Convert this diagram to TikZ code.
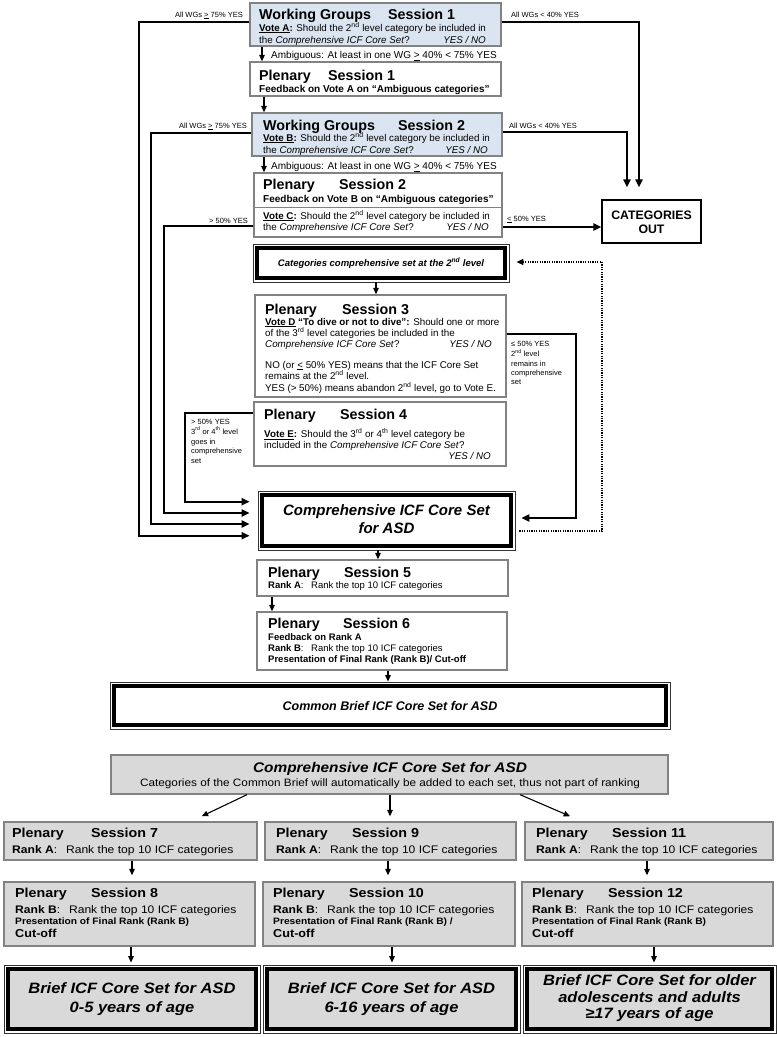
\documentclass[tikz,border=0pt]{standalone}
\usepackage{fontspec}
\setmainfont{Liberation Sans}
\newfontfamily\widefont[FakeStretch=1.1]{Liberation Sans}
\usetikzlibrary{arrows.meta,fit}
\definecolor{wgblue}{RGB}{219,229,241}
\definecolor{boxgray}{RGB}{217,217,217}
\definecolor{edgegray}{RGB}{130,130,130}
\newcommand\uln[1]{\underline{#1}}
\newcommand\sups[1]{\textsuperscript{#1}}
\newcommand\fTitle{\fontsize{14.3}{16}\selectfont\bfseries}
\newcommand\fBody{\fontsize{9.8}{11}\selectfont}
\newcommand\fFeed{\fontsize{10}{12}\selectfont\bfseries}
\newcommand\fLab{\fontsize{7.5}{9}\selectfont}
\newcommand\fAmb{\fontsize{10}{12}\selectfont}
\newcommand\fSmall{\fontsize{9.5}{11}\selectfont}
\newcommand\wTitle{\widefont\fontsize{13}{15}\selectfont\bfseries}
\newcommand\wBody{\widefont\fontsize{11}{13}\selectfont}
\newcommand\wPres{\widefont\fontsize{9.3}{11}\selectfont\bfseries}
\newcommand\wCut{\widefont\fontsize{11.5}{13}\selectfont\bfseries}
\newcommand\wBig{\widefont\fontsize{15}{17}\selectfont\bfseries\itshape}
\begin{document}
\begin{tikzpicture}[x=1pt,y=-1pt,
  sbox/.style={draw=edgegray, line width=1.3pt, inner sep=0},
  bbox/.style={sbox, fill=wgblue},
  gbox/.style={sbox, fill=boxgray},
  kbox/.style={draw=black, line width=1.3pt, inner sep=0},
  dbox/.style={draw=black!80, line width=0.8pt, inner sep=0,
    path picture={
      \fill[#1] ([shift={(4pt,-4pt)}]path picture bounding box.north west) rectangle ([shift={(-4pt,4pt)}]path picture bounding box.south east);
      \draw[black, line width=3.5pt] ([shift={(4pt,-4pt)}]path picture bounding box.north west) rectangle ([shift={(-4pt,4pt)}]path picture bounding box.south east);}},
  dbox/.default=white,
  tx/.style={anchor=base west, inner sep=0},
  txr/.style={anchor=base east, inner sep=0},
  txc/.style={anchor=base, inner sep=0},
  lline/.style={line width=2pt, -{Triangle[length=8pt,width=7pt]}},
  sline/.style={line width=1.1pt, -{Triangle[length=6.5pt,width=5.5pt]}},
  dline/.style={line width=1.3pt, dash pattern=on 1.2pt off 1.2pt, -{Triangle[length=7pt,width=6pt]}},
]
\useasboundingbox[fill=white] (0,0) rectangle (777,1037);

% ---------- boxes ----------
\node[bbox, fit={(250,3)(501,46)}] (wg1) {};
\node[sbox, fit={(250,62)(501,96)}] (p1) {};
\node[bbox, fit={(252,113)(502,156)}] (wg2) {};
\node[sbox, fit={(254,173)(502,237)}] (p2) {};
\node[kbox, fit={(602,200)(701,243)}] (out) {};
\node[dbox, fit={(253,244)(509,282)}] (cat2) {};
\node[sbox, fit={(255,295)(506,397)}] (s3) {};
\node[sbox, fit={(254,402)(506,466)}] (s4) {};
\node[dbox, fit={(258,491)(515,550)}] (comp) {};
\node[sbox, fit={(257,560)(508,596)}] (s5) {};
\node[sbox, fit={(257,612)(507,670)}] (s6) {};
\node[dbox, fit={(110,682)(670,729)}] (brief) {};
\node[gbox, fit={(111,755)(668,794)}] (compb) {};
\node[gbox, fit={(4,822)(257,860)}] (s7) {};
\node[gbox, fit={(265,822)(516,860)}] (s9) {};
\node[gbox, fit={(525,822)(773,860)}] (s11) {};
\node[gbox, fit={(4,882)(255,946)}] (s8) {};
\node[gbox, fit={(263,882)(515,946)}] (s10) {};
\node[gbox, fit={(522,882)(773,946)}] (s12) {};
\node[dbox=boxgray, fit={(4,965)(260,1033)}] (b1) {};
\node[dbox=boxgray, fit={(263,965)(520,1033)}] (b2) {};
\node[dbox=boxgray, fit={(523,965)(776,1033)}] (b3) {};
\draw[edgegray, line width=1pt] (p2.west |- 0,207) -- (p2.east |- 0,207);

% ---------- texts: WG1 ----------
\node[tx,font=\fTitle] (t1) at (259,19) {Working Groups};
\node[tx,font=\fTitle] (t2) at (388,19) {Session 1};
\node[tx,font=\fBody] (t3) at (259,31) {\textbf{\uln{Vote A}:} Should the 2\sups{nd} level category be included in};
\node[tx,font=\fBody] (t4) at (259,43) {the \textit{Comprehensive ICF Core Set}?};
\node[txr,font=\fBody\itshape] (t5) at (486,43) {YES / NO};
\node[txr,font=\fLab] (l1) at (243,17) {All WGs \uln{>} 75\% YES};
\node[tx,font=\fLab] (l2) at (511,17) {All WGs < 40\% YES};
\node[tx,font=\fAmb] (a1) at (271,58.5) {Ambiguous: At least in one WG \uln{>} 40\% < 75\% YES};
% P1
\node[tx,font=\fTitle] (t6) at (259,80) {Plenary};
\node[tx,font=\fTitle] (t7) at (328,80) {Session 1};
\node[tx,font=\fFeed] (t8) at (259,92) {Feedback on Vote A on ``Ambiguous categories''};
% WG2
\node[tx,font=\fTitle] (t9) at (263,130) {Working Groups};
\node[tx,font=\fTitle] (t10) at (398,130) {Session 2};
\node[tx,font=\fBody] (t11) at (263,141) {\textbf{\uln{Vote B}:} Should the 2\sups{nd} level category be included in};
\node[tx,font=\fBody] (t12) at (263,153) {the \textit{Comprehensive ICF Core Set}?};
\node[txr,font=\fBody\itshape] (t13) at (488,153) {YES / NO};
\node[txr,font=\fLab] (l3) at (247,128) {All WGs \uln{>} 75\% YES};
\node[tx,font=\fLab] (l4) at (509,128) {All WGs < 40\% YES};
\node[tx,font=\fAmb] (a2) at (271,169.5) {Ambiguous: At least in one WG \uln{>} 40\% < 75\% YES};
% P2
\node[tx,font=\fTitle] (t14) at (263,189) {Plenary};
\node[tx,font=\fTitle] (t15) at (339,189) {Session 2};
\node[tx,font=\fFeed] (t16) at (263,202) {Feedback on Vote B on ``Ambiguous categories''};
\node[tx,font=\fBody] (t17) at (263,219) {\textbf{\uln{Vote C}:} Should the 2\sups{nd} level category be included in};
\node[tx,font=\fBody] (t18) at (263,230) {the \textit{Comprehensive ICF Core Set}?};
\node[txr,font=\fBody\itshape] (t19) at (489,230) {YES / NO};
\node[txr,font=\fLab] (l5) at (248,223) {> 50\% YES};
\node[tx,font=\fLab] (l6) at (507,221) {\uln{<} 50\% YES};
% OUT
\node[txc,font=\fontsize{12.3}{14}\selectfont\bfseries] (t20) at (651.5,219.5) {CATEGORIES};
\node[txc,font=\fontsize{12.3}{14}\selectfont\bfseries] (t21) at (651.5,233) {OUT};
% cat2
\node[txc,font=\fontsize{9.5}{11}\selectfont\bfseries\itshape] (t22) at (381,266) {Categories comprehensive set at the 2\sups{nd} level};
% S3
\node[tx,font=\fTitle] (t23) at (265,314) {Plenary};
\node[tx,font=\fTitle] (t24) at (342,314) {Session 3};
\node[tx,font=\fBody] (t25) at (265,325) {\textbf{\uln{Vote D} ``To dive or not to dive'':} Should one or more};
\node[tx,font=\fBody] (t26) at (265,336.5) {of the 3\sups{rd} level categories be included in the};
\node[tx,font=\fBody] (t27) at (265,347) {\textit{Comprehensive ICF Core Set}?};
\node[txr,font=\fBody\itshape] (t28) at (492,347) {YES / NO};
\node[tx,font=\fBody] (t29) at (265,368) {NO (or \uln{<} 50\% YES) means that the ICF Core Set};
\node[tx,font=\fBody] (t30) at (265,379.5) {remains at the 2\sups{nd} level.};
\node[tx,font=\fBody] (t31) at (265,391) {YES (> 50\%) means abandon 2\sups{nd} level, go to Vote E.};
\node[tx,font=\fLab] (r1) at (511,346.5) {≤ 50\% YES};
\node[tx,font=\fLab] (r2) at (511,356.5) {2\sups{nd} level};
\node[tx,font=\fLab] (r3) at (511,366) {remains in};
\node[tx,font=\fLab] (r4) at (511,375.5) {comprehensive};
\node[tx,font=\fLab] (r5) at (511,384.5) {set};
% S4
\node[tx,font=\fTitle] (t32) at (264,419) {Plenary};
\node[tx,font=\fTitle] (t33) at (340,419) {Session 4};
\node[tx,font=\fBody] (t34) at (264,437.5) {\textbf{\uln{Vote E}:} Should the 3\sups{rd} or 4\sups{th} level category be};
\node[tx,font=\fBody] (t35) at (264,448.5) {included in the \textit{Comprehensive ICF Core Set}?};
\node[txr,font=\fBody\itshape] (t36) at (491,459) {YES / NO};
\node[tx,font=\fLab] (q1) at (191,424) {> 50\% YES};
\node[tx,font=\fLab] (q2) at (191,434) {3\sups{rd} or 4\sups{th} level};
\node[tx,font=\fLab] (q3) at (191,444) {goes in};
\node[tx,font=\fLab] (q4) at (191,453.5) {comprehensive};
\node[tx,font=\fLab] (q5) at (191,463.5) {set};
% comp
\node[txc,font=\fontsize{15}{17}\selectfont\bfseries\itshape] (t37) at (386.5,515) {Comprehensive ICF Core Set};
\node[txc,font=\fontsize{15}{17}\selectfont\bfseries\itshape] (t38) at (386.5,533) {for ASD};
% S5, S6
\node[tx,font=\fTitle] (t39) at (268,577) {Plenary};
\node[tx,font=\fTitle] (t40) at (344,577) {Session 5};
\node[tx,font=\fSmall] (t41) at (268,588) {\textbf{Rank A}:\hspace{0.8em}Rank the top 10 ICF categories};
\node[tx,font=\fTitle] (t42) at (268,628) {Plenary};
\node[tx,font=\fTitle] (t43) at (343,628) {Session 6};
\node[tx,font=\fSmall\bfseries] (t44) at (268,640) {Feedback on Rank A};
\node[tx,font=\fSmall] (t45) at (268,651) {\textbf{Rank B}:\hspace{0.8em}Rank the top 10 ICF categories};
\node[tx,font=\fSmall\bfseries] (t46) at (268,662) {Presentation of Final Rank (Rank B)/ Cut-off};
% brief
\node[txc,font=\fontsize{12.5}{14}\selectfont\bfseries\itshape] (t47) at (390,710) {Common Brief ICF Core Set for ASD};
% compb
\node[txc,font=\widefont\fontsize{14}{16}\selectfont\bfseries\itshape] (t48) at (390,772) {Comprehensive ICF Core Set for ASD};
\node[txc,font=\widefont\fontsize{10.7}{12}\selectfont] (t49) at (390,786) {Categories of the Common Brief will automatically be added to each set, thus not part of ranking};
% S7 S9 S11
\node[tx,font=\wTitle] (u1) at (12,837) {Plenary};
\node[tx,font=\wTitle] (u2) at (91,837) {Session 7};
\node[tx,font=\wBody] (u3) at (12,853) {\textbf{Rank A}:\hspace{0.8em}Rank the top 10 ICF categories};
\node[tx,font=\wTitle] (u4) at (276,837) {Plenary};
\node[tx,font=\wTitle] (u5) at (352,837) {Session 9};
\node[tx,font=\wBody] (u6) at (276,853) {\textbf{Rank A}:\hspace{0.8em}Rank the top 10 ICF categories};
\node[tx,font=\wTitle] (u7) at (536,837) {Plenary};
\node[tx,font=\wTitle] (u8) at (612,837) {Session 11};
\node[tx,font=\wBody] (u9) at (536,853) {\textbf{Rank A}:\hspace{0.8em}Rank the top 10 ICF categories};
% S8 S10 S12
\node[tx,font=\wTitle] (v1) at (15,897) {Plenary};
\node[tx,font=\wTitle] (v2) at (91,897) {Session 8};
\node[tx,font=\wBody] (v3) at (15,913) {\textbf{Rank B}:\hspace{0.8em}Rank the top 10 ICF categories};
\node[tx,font=\wPres] (v4) at (15,924) {Presentation of Final Rank (Rank B)};
\node[tx,font=\wCut] (v5) at (15,937) {Cut-off};
\node[tx,font=\wTitle] (v6) at (273,897) {Plenary};
\node[tx,font=\wTitle] (v7) at (349,897) {Session 10};
\node[tx,font=\wBody] (v8) at (273,913) {\textbf{Rank B}:\hspace{0.8em}Rank the top 10 ICF categories};
\node[tx,font=\wPres] (v9) at (273,924) {Presentation of Final Rank (Rank B) /};
\node[tx,font=\wCut] (v10) at (273,937) {Cut-off};
\node[tx,font=\wTitle] (v11) at (532,897) {Plenary};
\node[tx,font=\wTitle] (v12) at (608,897) {Session 12};
\node[tx,font=\wBody] (v13) at (532,913) {\textbf{Rank B}:\hspace{0.8em}Rank the top 10 ICF categories};
\node[tx,font=\wPres] (v14) at (532,924) {Presentation of Final Rank (Rank B)};
\node[tx,font=\wCut] (v15) at (532,937) {Cut-off};
% bottom boxes
\node[txc,font=\wBig] (w1) at (132,993) {Brief ICF Core Set for ASD};
\node[txc,font=\wBig] (w2) at (132,1012) {0-5 years of age};
\node[txc,font=\wBig] (w3) at (391.5,993) {Brief ICF Core Set for ASD};
\node[txc,font=\wBig] (w4) at (391.5,1012) {6-16 years of age};
\node[txc,font=\wBig] (w5) at (649.5,985) {Brief ICF Core Set for older};
\node[txc,font=\wBig] (w6) at (649.5,1002) {adolescents and adults};
\node[txc,font=\wBig] (w7) at (649.5,1018) {≥17 years of age};

% ---------- connectors ----------
\draw[lline, shorten >=8pt] (wg1.west |- 0,22) -- (139,22) -- (139,535.7) -- (comp.west |- 0,535.7);
\draw[lline, shorten >=8pt] (wg2.west |- 0,133) -- (151,133) -- (151,524) -- (comp.west |- 0,524);
\draw[lline, shorten >=8pt] (p2.west |- 0,226) -- (164,226) -- (164,513) -- (comp.west |- 0,513);
\draw[lline, shorten >=8pt] (s4.west |- 0,413) -- (185,413) -- (185,501.7) -- (comp.west |- 0,501.7);
\draw[lline, shorten >=12pt] (wg1.east |- 0,22) -- (639,22) -- (out.north -| 639,0);
\draw[lline, shorten >=12pt] (wg2.east |- 0,132) -- (627,132) -- (out.north -| 627,0);
\draw[lline] (p2.east |- 0,227) -- (out.west |- 0,227);
\draw[lline, shorten >=6pt] (s3.east |- 0,334) -- (576,334) -- (576,518) -- (comp.east |- 0,518);
\draw[dline, shorten >=7pt, shorten <=4pt] (comp.east |- 0,531) -- (602,531) -- (602,262) -- (cat2.east |- 0,262);

\draw[sline] (wg1.south -| 262,0) -- (p1.north -| 262,0);
\draw[sline] (p1.south -| 264,0) -- (wg2.north -| 264,0);
\draw[sline] (wg2.south -| 264,0) -- (p2.north -| 264,0);
\draw[sline] (cat2.south -| 376,0) -- (s3.north -| 376,0);
\draw[sline] (comp.south -| 378,0) -- (s5.north -| 378,0);
\draw[sline] (s5.south -| 272,0) -- (s6.north -| 272,0);
\draw[sline] (s6.south -| 388,0) -- (brief.north -| 388,0);
\draw[sline, shorten >=11.8pt] (compb.south -| 247,0) -- (s7.north -| 191,0);
\draw[sline, shorten >=5pt] (compb.south -| 390,0) -- (s9.north -| 390,0);
\draw[sline, shorten >=12.9pt] (compb.south -| 520,0) -- (s11.north -| 582,0);
\draw[sline, shorten >=6pt] (s7.south -| 132,0) -- (s8.north -| 132,0);
\draw[sline, shorten >=6pt] (s9.south -| 388,0) -- (s10.north -| 388,0);
\draw[sline, shorten >=6pt] (s11.south -| 647,0) -- (s12.north -| 647,0);
\draw[sline, shorten >=2pt] (s8.south -| 131,0) -- (b1.north -| 131,0);
\draw[sline, shorten >=2pt] (s10.south -| 392,0) -- (b2.north -| 392,0);
\draw[sline, shorten >=2pt] (s12.south -| 654,0) -- (b3.north -| 654,0);
\end{tikzpicture}
\end{document}
